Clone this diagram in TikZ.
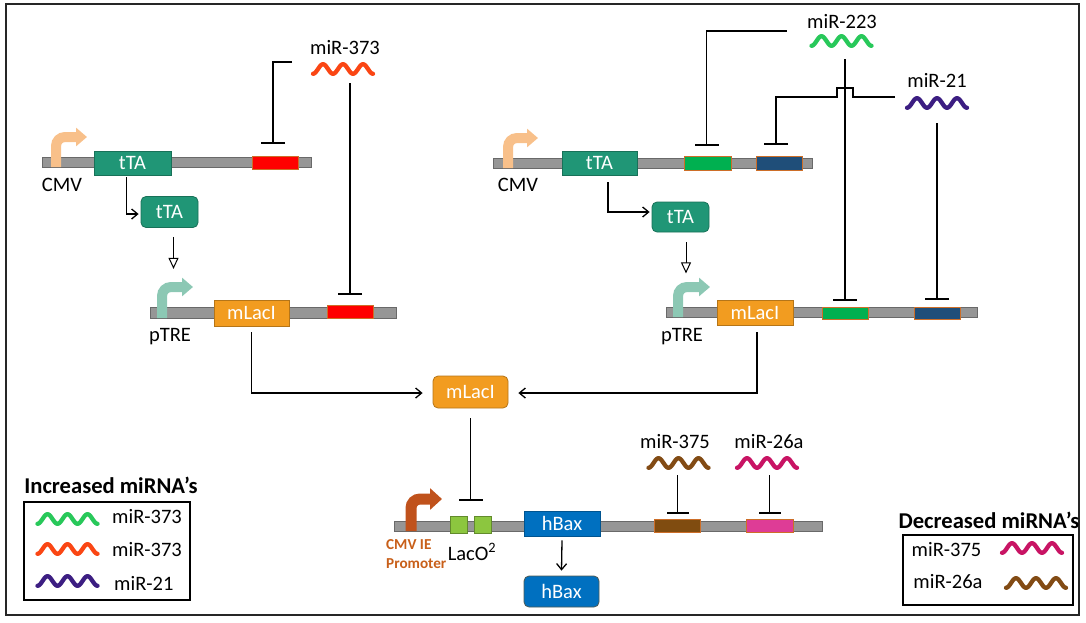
\documentclass[tikz,border=0pt]{standalone}
\usepackage{fontspec}
\setmainfont{Carlito}
\usetikzlibrary{arrows.meta,calc}
\definecolor{bbfill}{RGB}{150,150,150}
\definecolor{bbedge}{RGB}{105,105,105}
\definecolor{tealc}{RGB}{32,150,118}
\definecolor{orangec}{RGB}{242,156,32}
\definecolor{cmvc}{RGB}{248,192,138}
\definecolor{ptrec}{RGB}{140,200,180}
\definecolor{cmvie}{RGB}{192,82,28}
\definecolor{cmvtxt}{RGB}{200,95,25}
\definecolor{siteedge}{RGB}{205,110,40}
\definecolor{redc}{RGB}{255,0,0}
\definecolor{grnc}{RGB}{0,176,80}
\definecolor{bluc}{RGB}{31,78,121}
\definecolor{brnc}{RGB}{128,76,16}
\definecolor{pnkc}{RGB}{222,60,150}
\definecolor{lacoc}{RGB}{140,198,63}
\definecolor{hbaxc}{RGB}{0,112,192}
\definecolor{wgreen}{RGB}{40,200,90}
\definecolor{wred}{RGB}{250,70,20}
\definecolor{wpurple}{RGB}{60,30,130}
\definecolor{wbrown}{RGB}{130,75,20}
\definecolor{wmag}{RGB}{200,20,100}
\tikzset{
  bb/.style={draw=bbedge, fill=bbfill, line width=0.8pt, minimum height=10pt, inner sep=0pt},
  gene/.style={draw=#1!75!black, fill=#1, line width=0.8pt, text=white, font=\fontsize{20.5}{21}\selectfont, inner sep=0pt, minimum height=24pt},
  prot/.style={gene=#1, rounded corners=5pt, minimum height=31pt},
  site/.style={draw=siteedge, fill=#1, line width=0.8pt, inner sep=0pt, minimum height=13pt, minimum width=46pt},
  lbl/.style={font=\fontsize{20.5}{21}\selectfont, inner sep=0pt},
  ttl/.style={font=\bfseries\fontsize{22.6}{24}\selectfont, inner sep=0pt},
  inh/.style={line width=1.5pt, -{Bar[width=24pt]}},
  act/.style={line width=1.3pt, -{Straight Barb[length=6pt,width=10pt]}},
  opn/.style={line width=1pt, -{Triangle[open,length=11pt,width=10pt,fill=white]}},
  prom/.style={draw=#1, line width=10pt, rounded corners=9pt, -{Triangle[length=11pt,width=18pt]}},
  legbox/.style={draw=black, line width=2pt, inner sep=0pt},
  pics/wave/.style={code={\draw[#1, line width=4.3pt, line cap=round, line join=round] plot[domain=-30:30, samples=61, smooth] (\x,{4.8*cos((\x+30)*18)});}}
}
\begin{document}
\begin{tikzpicture}[x=1pt,y=-1pt]
\useasboundingbox (0,0) rectangle (1086,622);
\draw[line width=1.8pt, draw=black!85] (6,4) rectangle (1079,615);

% ---------- top-left construct ----------
\node[bb, minimum width=269pt] (bb1) at (176.5,162) {};
\draw[prom=cmvc] (56,167) -- (56,137) -- (87,137);
\node[gene=tealc, minimum width=77pt] (tta1) at (132.5,163) {tTA};
\node[site=redc] (red1) at (275,162.5) {};
\node[lbl] (cmv1) at (62,185) {CMV};
\node[prot=tealc, minimum width=57pt] (ttap1) at (169.5,212) {tTA};
\node[bb, minimum width=246pt, minimum height=11pt] (bb2) at (273,312.5) {};
\draw[prom=ptrec] (162,318) -- (162,287) -- (193,287);
\node[gene=orangec, minimum width=75pt, minimum height=26pt] (mlac1) at (251.5,313) {mLacI};
\node[site=redc] (red2) at (350,311.5) {};
\node[lbl] (ptre1) at (170,337) {pTRE};
\coordinate (w373) at (343,69);
\coordinate (w373s) at (343,83);
\pic at (w373) {wave=wred};
\node[lbl] (l373) at (345,48) {miR-373};

\draw[inh] ($(w373)+(-51,-7)$) -| ($(red1.north)+(-2,-12)$);
\draw[inh] (red2.north |- w373s) -- ($(red2.north)+(0,-10)$);
\draw[act] ($(tta1.south)+(-6,2)$) |- ($(ttap1.west)+(-2,2)$);
\draw[opn] ($(ttap1.south)+(4,9)$) -- ($(ttap1.south)+(4,41)$);

% ---------- top-right construct ----------
\node[bb, minimum width=319pt] (bb3) at (652.5,163) {};
\draw[prom=cmvc] (508,168) -- (508,138) -- (538,138);
\node[gene=tealc, minimum width=75pt] (tta2) at (599.5,163) {tTA};
\node[site=grnc, minimum width=47pt, minimum height=14pt] (grn1) at (707.5,163) {};
\node[site=bluc, minimum width=46pt, minimum height=14pt] (blu1) at (779,163) {};
\node[lbl] (cmv2) at (518,185) {CMV};
\node[prot=tealc, minimum width=57pt, minimum height=30pt] (ttap2) at (680.5,217) {tTA};
\node[bb, minimum width=311pt] (bb4) at (821.5,312) {};
\draw[prom=ptrec] (678,317) -- (678,287) -- (710,287);
\node[gene=orangec, minimum width=76pt, minimum height=25pt] (mlac2) at (755,312.5) {mLacI};
\node[site=grnc, minimum height=12pt] (grn2) at (845,313) {};
\node[site=bluc, minimum height=12pt] (blu2) at (937,313) {};
\node[lbl] (ptre2) at (682,337) {pTRE};

\coordinate (w223) at (841.5,41);
\coordinate (w223s) at (845,59);
\pic at (w223) {wave=wgreen};
\node[lbl] (l223) at (842,22) {miR-223};
\coordinate (w21) at (937,103);
\coordinate (w21s) at (937,123);
\pic at (w21) {wave=wpurple};
\node[lbl] (l21) at (937,80) {miR-21};

\draw[inh] ($(w223)+(-55,-10)$) -| ($(grn1.north)+(-1,-10)$);
\draw[inh] (grn2.north |- w223s) -- ($(grn2.north)+(0,-6)$);
\draw[inh] (blu2.north |- w21s) -- ($(blu2.north)+(0,-7)$);
\draw[inh] ($(w21)+(-42,-6)$) -- ++(-42,0) -- ++(0,-9) -- ++(-16,0) -- ++(0,9) -| ($(blu1.north)+(-3,-11)$);
\draw[act] ($(tta2.south)+(8.5,7)$) |- ($(ttap2.west)+(-2,-5)$);
\draw[opn] ($(ttap2.south)+(5.5,10)$) -- ($(ttap2.south)+(5.5,41)$);

% ---------- centre ----------
\node[prot=orangec, minimum width=75pt, minimum height=32pt] (mlacp) at (470.5,392) {mLacI};
\draw[act] ($(mlac1.south)+(0,6)$) |- ($(mlacp.west)+(-10,1)$);
\draw[act] ($(mlac2.south)+(2,7)$) |- ($(mlacp.east)+(10,1)$);

\node[bb, minimum width=428pt] (bb5) at (608,526) {};
\draw[prom=cmvie, line width=11pt, -{Triangle[length=12pt,width=21pt]}] (411,531) -- (411,499) -- (442,499);
\node[site=lacoc, draw=lacoc!70!black, minimum width=17pt, minimum height=17pt] (laco1) at (458.5,524.5) {};
\node[site=lacoc, draw=lacoc!70!black, minimum width=17pt, minimum height=17pt] (laco2) at (482.5,524.5) {};
\coordinate (lacomid) at ($(laco1.north)!0.5!(laco2.north)$);
\draw[inh] ($(mlacp.south)+(0,10)$) -- ($(lacomid)+(0,-15)$);
\node[lbl] (laco) at (472,552) {LacO\textsuperscript{2}};
\node[font=\bfseries\fontsize{15.2}{19}\selectfont, text=cmvtxt, align=left, anchor=west, inner sep=0pt] (cmvie) at (386,554) {CMV IE\\Promoter};
\node[gene=hbaxc, minimum width=76pt, minimum height=25pt] (hbax1) at (562,523.5) {hBax};
\node[prot=hbaxc, draw=brnc!60!hbaxc, minimum width=75pt] (hbaxp) at (561.5,591.5) {hBax};
\draw[act] ($(hbax1.south)+(0,4)$) -- ($(hbaxp.north)+(0,-5)$);
\node[site=brnc] (brn) at (677.5,525.5) {};
\node[site=pnkc, minimum width=47pt] (pnk) at (769.5,525.5) {};

\coordinate (w375) at (678.5,463);
\coordinate (w375s) at (678.5,475);
\pic at (w375) {wave=wbrown};
\node[lbl] (l375) at (675,442) {miR-375};
\coordinate (w26) at (767,463);
\coordinate (w26s) at (767,475);
\pic at (w26) {wave=wmag};
\node[lbl] (l26) at (769,442) {miR-26a};
\draw[inh, -{Bar[width=22pt]}] (brn.north |- w375s) -- ($(brn.north)+(0,-5)$);
\draw[inh, -{Bar[width=22pt]}] (pnk.north |- w26s) -- ($(pnk.north)+(0,-5)$);

% ---------- legends ----------
\node[ttl] (inc) at (111,485) {Increased miRNA’s};
\node[legbox, minimum width=166pt, minimum height=98pt] (leg1) at (107,551) {};
\pic at (67.5,519) {wave=wgreen};
\pic at (67.5,549) {wave=wred};
\pic at (67.5,581) {wave=wpurple};
\node[lbl, anchor=west] (li1) at (112,517) {miR-373};
\node[lbl, anchor=west] (li2) at (112,550) {miR-373};
\node[lbl, anchor=west] (li3) at (114,583) {miR-21};

\node[ttl] (dec) at (989,520) {Decreased miRNA’s};
\node[legbox, minimum width=170pt, minimum height=70pt] (leg2) at (988,570) {};
\node[lbl] (ld1) at (946.5,550) {miR-375};
\node[lbl] (ld2) at (948,582) {miR-26a};
\pic at (1032,548) {wave=wmag};
\pic at (1036,583) {wave=wbrown};
\end{tikzpicture}
\end{document}
